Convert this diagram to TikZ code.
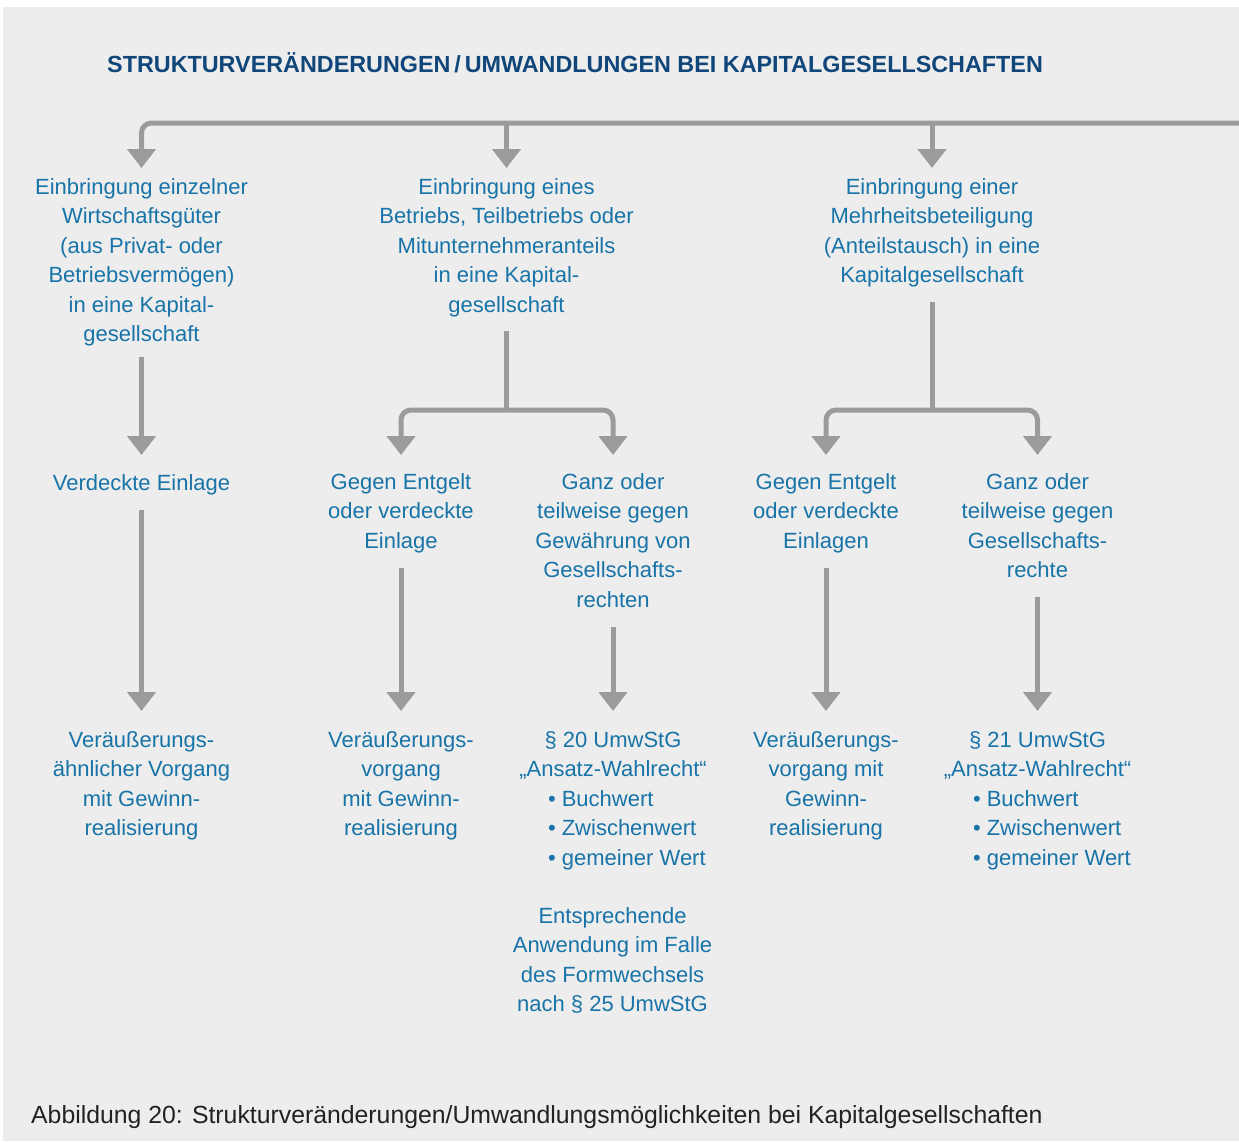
\documentclass[tikz,border=0pt]{standalone}
\usepackage{fontspec}
\setmainfont{Liberation Sans}
\usetikzlibrary{arrows.meta}
\definecolor{bgray}{HTML}{EDEDED}
\definecolor{txtblue}{RGB}{24,116,168}
\definecolor{ttlblue}{RGB}{16,70,122}
\definecolor{arrgray}{HTML}{9B9B9B}
\definecolor{captxt}{HTML}{222222}
\begin{document}
\begin{tikzpicture}[x=1pt,y=1pt,
  lbl/.style={text=txtblue, font=\fontsize{22}{29.4}\selectfont, align=center,
    inner sep=0pt, outer sep=0pt, anchor=north,
    execute at begin node={\rule{0pt}{17pt}},
    execute at end node={\rule[-6pt]{0pt}{6pt}}},
  arr/.style={draw=arrgray, line width=5pt, -{Triangle[width=28pt,length=19pt]}},
  ln/.style={draw=arrgray, line width=5pt},
]
\useasboundingbox (0,0) rectangle (1239,-1141);
\fill[white] (0,0) rectangle (1239,-1141);
\fill[bgray] (3,-7) rectangle (1239,-1141);

\node[anchor=base west, inner sep=0pt, text=ttlblue, font=\bfseries\fontsize{23.35}{28}\selectfont] (title) at (107,-72.5)
  {STRUKTURVERÄNDERUNGEN\,/\,UMWANDLUNGEN BEI KAPITALGESELLSCHAFTEN};

% top row
\node[lbl] (c1) at (141.5,-178.5) {Einbringung einzelner\\Wirtschaftsgüter\\(aus Privat- oder\\Betriebsvermögen)\\in eine Kapital-\\gesellschaft};
\node[lbl] (c2) at (506.5,-178.5) {Einbringung eines\\Betriebs, Teilbetriebs oder\\Mitunternehmeranteils\\in eine Kapital-\\gesellschaft};
\node[lbl] (c3) at (932,-178.5) {Einbringung einer\\Mehrheitsbeteiligung\\(Anteilstausch) in eine\\Kapitalgesellschaft};

% second row
\node[lbl] (v1) at (141.5,-473.5) {Verdeckte Einlage};
\node[lbl] (g2) at (401,-473.5) {Gegen Entgelt\\oder verdeckte\\Einlage};
\node[lbl] (h2) at (613,-473.5) {Ganz oder\\teilweise gegen\\Gewährung von\\Gesellschafts-\\rechten};
\node[lbl] (g3) at (826,-473.5) {Gegen Entgelt\\oder verdeckte\\Einlagen};
\node[lbl] (h3) at (1037.5,-473.5) {Ganz oder\\teilweise gegen\\Gesellschafts-\\rechte};

% third row
\node[lbl] (r1) at (141.5,-731.5) {Veräußerungs-\\ähnlicher Vorgang\\mit Gewinn-\\realisierung};
\node[lbl] (r2) at (401,-731.5) {Veräußerungs-\\vorgang\\mit Gewinn-\\realisierung};
\node[lbl] (r3) at (613,-731.5) {§ 20 UmwStG\\„Ansatz-Wahlrecht“\\\makebox[130pt][l]{• Buchwert}\\\makebox[130pt][l]{• Zwischenwert}\\\makebox[130pt][l]{• gemeiner Wert}};
\node[lbl] (r4) at (826,-731.5) {Veräußerungs-\\vorgang mit\\Gewinn-\\realisierung};
\node[lbl] (r5) at (1037.5,-731.5) {§ 21 UmwStG\\„Ansatz-Wahlrecht“\\\makebox[129pt][l]{• Buchwert}\\\makebox[129pt][l]{• Zwischenwert}\\\makebox[129pt][l]{• gemeiner Wert}};
\node[lbl] (e2) at (612.5,-907.5) {Entsprechende\\Anwendung im Falle\\des Formwechsels\\nach § 25 UmwStG};

% caption
\node[anchor=base west, inner sep=0pt, text=captxt, font=\fontsize{24.8}{30}\selectfont] (cap) at (31,-1123.5)
  {Abbildung 20: Strukturveränderungen/Umwandlungsmöglichkeiten bei Kapitalgesellschaften};

% connectors
\coordinate (tr) at (1239,-123);
\draw[arr, rounded corners=10pt, shorten >=10.5pt] (tr) -- (c1.north |- tr) -- (c1.north);
\draw[arr, shorten >=10.5pt] (c2.north |- tr) -- (c2.north);
\draw[arr, shorten >=10.5pt] (c3.north |- tr) -- (c3.north);

\draw[arr, shorten <=9.5pt, shorten >=18.5pt] (c1.south) -- (v1.north);
\draw[arr, shorten <=13.5pt, shorten >=20.5pt] (v1.south) -- (r1.north);

\coordinate (j2) at (506.5,-410);
\draw[ln, shorten <=13pt] (c2.south) -- (j2);
\draw[arr, rounded corners=10pt, shorten >=18.5pt] (j2) -- (g2.north |- j2) -- (g2.north);
\draw[arr, rounded corners=10pt, shorten >=18.5pt] (j2) -- (h2.north |- j2) -- (h2.north);
\draw[arr, shorten <=13.5pt, shorten >=20.5pt] (g2.south) -- (r2.north);
\draw[arr, shorten <=14pt, shorten >=20.5pt] (h2.south) -- (r3.north);

\coordinate (j3) at (932,-410);
\draw[ln, shorten <=13.5pt] (c3.south) -- (j3);
\draw[arr, rounded corners=10pt, shorten >=18.5pt] (j3) -- (g3.north |- j3) -- (g3.north);
\draw[arr, rounded corners=10pt, shorten >=18.5pt] (j3) -- (h3.north |- j3) -- (h3.north);
\draw[arr, shorten <=13.5pt, shorten >=20.5pt] (g3.south) -- (r4.north);
\draw[arr, shorten <=13.5pt, shorten >=20.5pt] (h3.south) -- (r5.north);
\end{tikzpicture}
\end{document}
